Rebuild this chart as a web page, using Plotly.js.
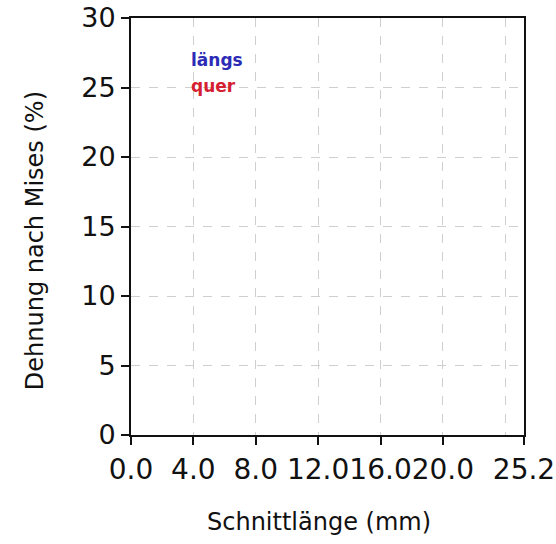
<!DOCTYPE html>
<html><head><meta charset="utf-8">
<script src="https://cdn.plot.ly/plotly-3.0.1.min.js"></script>
<style>html,body{margin:0;padding:0;background:#fff}</style>
</head><body>
<div id="chart" style="width:556px;height:544px"></div>
<script>
const seriesNames = ["längs", "quer"];
const seriesColors = ["#2b2bb5", "#d42030"];
const laengsX = [], laengsY = [];
const querX = [], querY = [];
const xTickVals = [0, 4, 8, 12, 16, 20, 25.2];
const xTickText = ["0.0", "4.0", "8.0", "12.0", "16.0", "20.0", "25.2"];
const xGridVals = [4, 8, 12, 16, 20, 24];
const yTickVals = [0, 5, 10, 15, 20, 25, 30];
const xRange = [0, 25.2], yRange = [0, 30];
const xTitle = "Schnittlänge (mm)";
const yTitle = "Dehnung nach Mises (%)";
const legendPos = [[3.75, 27.0], [3.75, 25.1]];

const font = "DejaVu Sans, sans-serif";
const traces = [
  {x: laengsX, y: laengsY, name: seriesNames[0], mode: "lines", line: {color: seriesColors[0]}, showlegend: false},
  {x: querX, y: querY, name: seriesNames[1], mode: "lines", line: {color: seriesColors[1]}, showlegend: false},
  {x: [], y: [], xaxis: "x2", showlegend: false}
];
const annotations = seriesNames.map((n, i) => ({
  x: legendPos[i][0], y: legendPos[i][1], xref: "x", yref: "y", text: "<b>" + n + "</b>",
  showarrow: false, xanchor: "left", yanchor: "middle",
  font: {size: 17, family: font, color: seriesColors[i]}
}));
annotations.push({
  x: 0.478, y: -0.209, xref: "paper", yref: "paper", text: xTitle, showarrow: false,
  xanchor: "center", yanchor: "middle", font: {size: 24, family: font, color: "#111"}
});
annotations.push({
  x: -0.244, y: 0.465, xref: "paper", yref: "paper", text: yTitle, showarrow: false, textangle: -90,
  xanchor: "center", yanchor: "middle", font: {size: 24, family: font, color: "#111"}
});
const layout = {
  width: 556, height: 544,
  margin: {l: 131, r: 32, t: 18, b: 109},
  paper_bgcolor: "#fff", plot_bgcolor: "#fff",
  font: {family: font, color: "#111"},
  xaxis: {
    range: xRange, tickmode: "array", tickvals: xTickVals, ticktext: xTickText, tickangle: 0,
    showgrid: false, zeroline: false, showline: true, linecolor: "#111", linewidth: 2, mirror: true,
    ticks: "outside", ticklen: 8, tickwidth: 2, tickcolor: "#111",
    tickfont: {size: 28, family: font}, automargin: false
  },
  xaxis2: {
    range: xRange, overlaying: "x", tickmode: "array", tickvals: xGridVals,
    showticklabels: false, ticks: "", showgrid: true, gridcolor: "#cfcfcf", griddash: "dash", gridwidth: 1,
    zeroline: false, showline: false
  },
  yaxis: {
    range: yRange, tickmode: "array", tickvals: yTickVals,
    showgrid: true, gridcolor: "#cfcfcf", griddash: "dash", gridwidth: 1,
    zeroline: false, showline: true, linecolor: "#111", linewidth: 2, mirror: true,
    ticks: "outside", ticklen: 8, tickwidth: 2, tickcolor: "#111",
    tickfont: {size: 27, family: font}, automargin: false
  },
  annotations: annotations
};
Plotly.newPlot("chart", traces, layout, {displayModeBar: false, staticPlot: true});
</script>
</body></html>
